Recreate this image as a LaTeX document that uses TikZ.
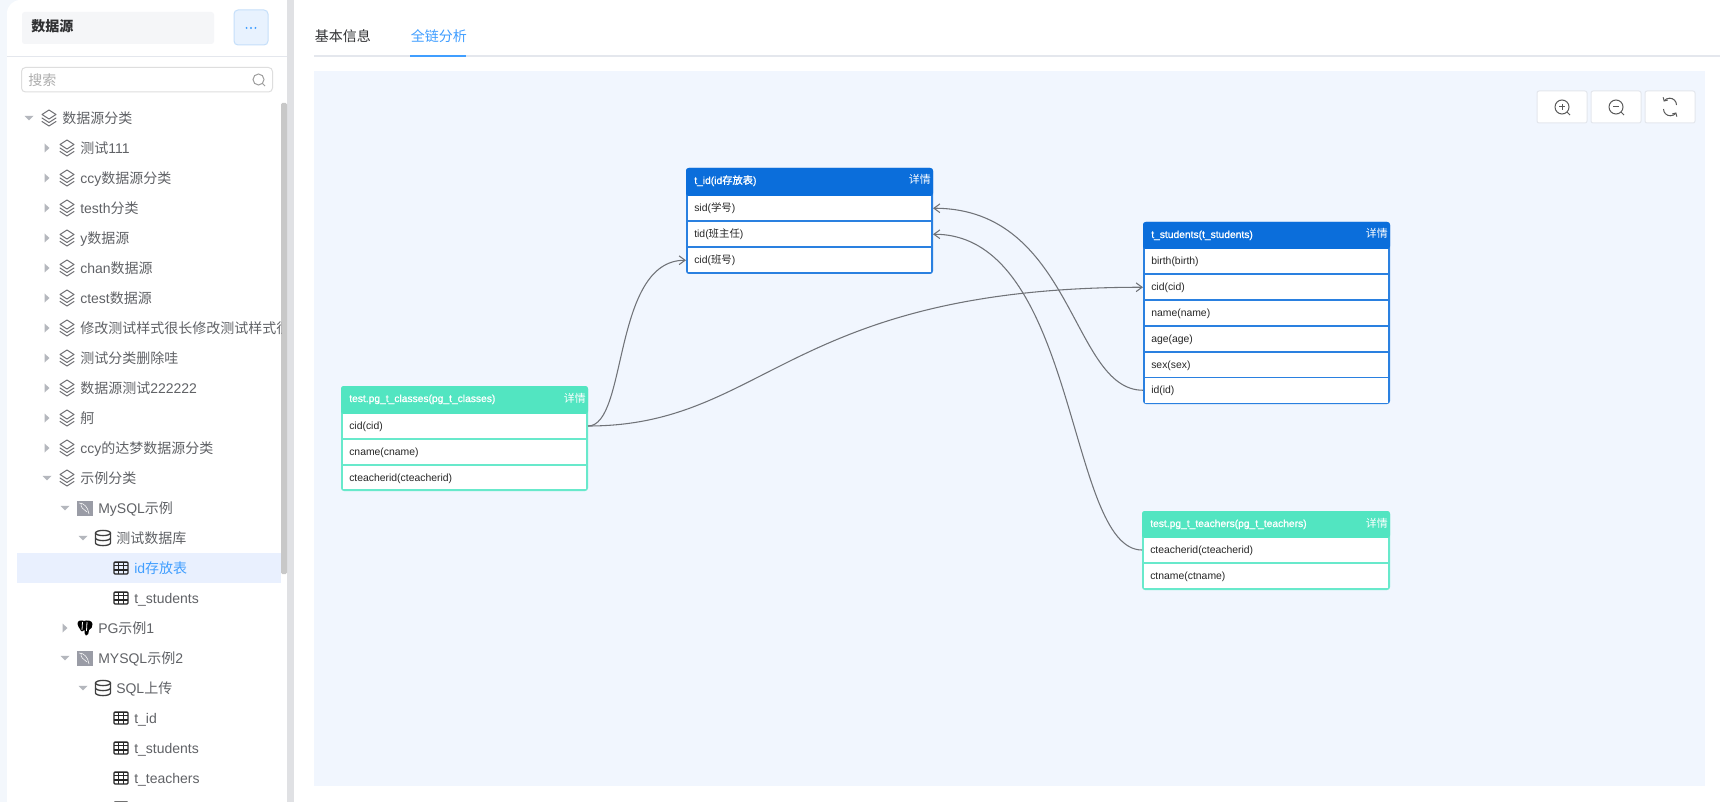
\documentclass[tikz,border=0pt]{standalone}
\usepackage{fontspec}
\setmainfont{Liberation Sans}
\newfontfamily\cjk{Noto Sans CJK SC}
\newfontfamily\headf[FakeBold=1]{Liberation Sans}
\newfontfamily\headcjk[FakeBold=1]{Noto Sans CJK SC}
\usetikzlibrary{arrows.meta}
\newcommand{\C}[1]{{\cjk #1}}
\newcommand{\HC}[1]{{\headcjk #1}}
\newcommand{\pxu}{0.75pt}
\definecolor{stripc}{HTML}{F3F7FC}
\definecolor{trackc}{HTML}{E0E1E4}
\definecolor{thumbc}{HTML}{C8C8C8}
\definecolor{treetext}{HTML}{606266}
\definecolor{darktext}{HTML}{303133}
\definecolor{linec}{HTML}{E4E7ED}
\definecolor{tabblue}{HTML}{409EFF}
\definecolor{canvasc}{HTML}{F1F6FE}
\definecolor{bluehead}{HTML}{0B6EDB}
\definecolor{blueedge}{HTML}{2A80E0}
\definecolor{greenhead}{HTML}{52E5C1}
\definecolor{greenedge}{HTML}{68E9CB}
\definecolor{connc}{HTML}{707378}
\definecolor{triac}{HTML}{B4B7BD}
\definecolor{layerc}{HTML}{707074}
\definecolor{mysqlc}{HTML}{9A9CA6}
\definecolor{headboxc}{HTML}{F5F6F8}
\definecolor{btnfill}{HTML}{E8F2FE}
\definecolor{btnedge}{HTML}{C5DFFA}
\definecolor{hlrow}{HTML}{E9F0FE}
\tikzset{
  x=\pxu,y=-\pxu,
  treefont/.style={font=\fontsize{10.5}{12}\selectfont},
  treelabel/.style={treefont,text=treetext,anchor=base west,inner sep=0pt},
  celltext/.style={font=\fontsize{7.8}{9}\selectfont,text=black!85,anchor=base west,inner sep=0pt},
  headtext/.style={font=\fontsize{7.7}{9}\selectfont\headf,text=white,anchor=base west,inner sep=0pt},
  detailtext/.style={font=\fontsize{8.2}{9}\selectfont,text=white,anchor=base east,inner sep=0pt},
  rowbox/.style={fill=white,draw=none,inner sep=0pt,outer sep=0pt},
  conn/.style={draw=connc,line width=0.8pt,-{Straight Barb[length=4.5pt,width=6.5pt]}},
  toolbtn/.style={draw=linec,fill=white,rounded corners=1.5pt,line width=0.75pt,inner sep=0pt,minimum width=50*\pxu,minimum height=32*\pxu},
  icon/.style={draw=#1,line width=0.75pt,fill=none,line join=round,line cap=round},
}
\newcommand{\layersicon}[2]{\begin{scope}[shift={(#1,#2)},icon=layerc]
  \draw (-7,-3.5)--(0,-8)--(7,-3.5)--(0,1)--cycle;
  \draw (-7,0)--(0,4.5)--(7,0);
  \draw (-7,3.5)--(0,8)--(7,3.5);
\end{scope}}
\newcommand{\dbicon}[2]{\begin{scope}[shift={(#1,#2)}]
  \draw[line width=1pt,draw=black!75] (0,-5) ellipse [x radius=7.5,y radius=2.6];
  \draw[line width=1pt,draw=black!75] (-7.5,-5)--(-7.5,5) arc[start angle=180,end angle=360,x radius=7.5,y radius=-2.6]--(7.5,-5);
  \draw[line width=1pt,draw=black!75] (-7.5,0) arc[start angle=180,end angle=360,x radius=7.5,y radius=-2.6];
\end{scope}}
\newcommand{\tableicon}[2]{\begin{scope}[shift={(#1,#2)},draw=black!85,line width=0.9pt]
  \draw[rounded corners=0.8pt] (-7,-6) rectangle (7,6);
  \draw (-7,-2.2)--(7,-2.2) (-7,2)--(7,2) (-2.4,-6)--(-2.4,6) (2.4,-6)--(2.4,6);
  \draw[line width=1.3pt] (-7,-5.6)--(7,-5.6);
\end{scope}}
\newcommand{\mysqlicon}[2]{\begin{scope}[shift={(#1,#2)}]
  \fill[mysqlc] (-8,-7.5) rectangle (8,8);
  \draw[white,line width=0.4pt] (-6,-5) .. controls (-1,-5) and (3,-1) .. (4,6) (-4,-5) .. controls (-5,0) and (-1,1) .. (2,4);
\end{scope}}
\newcommand{\pgicon}[2]{\begin{scope}[shift={(#1,#2)}]
  \fill[black] (-7.5,-4) .. controls (-8,-8) and (-3,-8) .. (-1,-7) .. controls (2,-8) and (7,-8) .. (7.5,-4)
     .. controls (8,-1) and (6,1) .. (4,2) .. controls (4,5) and (3,8) .. (1,7.5) .. controls (-1,7) and (0,4) .. (-0.5,2)
     .. controls (-2,4) and (-4,4) .. (-5,1) .. controls (-6,0) and (-7,-2) .. (-7.5,-4) -- cycle;
  \draw[white,line width=0.6pt] (-2.5,-6) -- (-3,2) (2,-6) -- (1.5,3);
\end{scope}}
\newcommand{\triR}[2]{\fill[triac] (#1-2.5,#2-4.5)--(#1+2.5,#2)--(#1-2.5,#2+4.5)--cycle;}
\newcommand{\triD}[2]{\fill[triac] (#1-4.5,#2-2.2)--(#1+4.5,#2-2.2)--(#1,#2+2.4)--cycle;}
\newcommand{\dbframe}[9]{%
  \fill[#9,rounded corners=2.2pt] (#2,#3) rectangle (#4,#5);
  \fill[#8,rounded corners=2pt] (#2,#3) -- (#4,#3) -- (#4,#6) -- (#2,#6) -- cycle;
  \node[headtext] (#1title) at (#2+8,#3+16) {#7};
  \node[detailtext] (#1detail) at (#4-2,#3+16) {\C{详情}};
}
\newcommand{\dbrow}[6]{%
  \node[rowbox,minimum width={(#3-#2-3.6)*\pxu},minimum height={(#5-#4)*\pxu},outer xsep=1.8*\pxu] (#1) at ({(#2+#3)/2},{(#4+#5)/2}) {};
  \node[celltext] (#1text) at (#2+8,{(#4+#5)/2+3.7}) {#6};
}
\begin{document}
\begin{tikzpicture}
\clip (0,0) rectangle (1720,802);
\fill[white] (0,0) rectangle (1720,802);
% sidebar
\fill[stripc] (0,0) rectangle (7,802);
\fill[stripc] (7,0) rectangle (20,12);
\fill[white,rounded corners=10pt] (7,0) -- (287,0) -- (287,802) -- (7,802) -- cycle;
\fill[white] (20,0) rectangle (287,20);
\fill[white] (7,20) rectangle (287,802);
\fill[trackc] (287,0) rectangle (294,802);
\fill[thumbc,rounded corners=1pt] (281,103) rectangle (287,574);
% header
\fill[headboxc,rounded corners=2pt] (22,12) rectangle (214,44);
\node[treefont,text=darktext,anchor=base west,inner sep=0pt] (hd) at (31,32) {\cjk\bfseries 数据源};
\draw[draw=btnedge,fill=btnfill,rounded corners=3pt,line width=0.75pt] (234,10) rectangle (268,45);
\fill[tabblue] (246.6,28) circle (1.1) (251,28) circle (1.1) (255.4,28) circle (1.1);
\draw[linec,line width=0.75pt] (7,56.5)--(287,56.5);
% search
\draw[draw=black!13,rounded corners=3pt,line width=0.75pt] (21.5,67.5) rectangle (272.5,92);
\node[treefont,text=black!32,anchor=base west,inner sep=0pt] (srch) at (28,86) {\C{搜索}};
\draw[black!38,line width=0.75pt] (258.5,79.5) circle (5.5) (262.5,83.5)--(265,86);
% highlighted row
\fill[hlrow] (17,553) rectangle (281,583);
% tree
\begin{scope}
\clip (0,95) rectangle (281,802);
\triD{29}{118}\layersicon{49}{118}\node[treelabel] (a0) at (62,124) {\C{数据源分类}};
\foreach \yy/\nn/\tt in {148/a1/{\C{测试}111},178/a2/{ccy\C{数据源分类}},208/a3/{testh\C{分类}},238/a4/{y\C{数据源}},268/a5/{chan\C{数据源}},298/a6/{ctest\C{数据源}},328/a7/{\C{修改测试样式很长修改测试样式很}},358/a8/{\C{测试分类删除哇}},388/a9/{\C{数据源测试}222222},418/a10/{\C{舸}},448/a11/{ccy\C{的达梦数据源分类}}}{
  \triR{47}{\yy}\layersicon{67}{\yy}\node[treelabel] (\nn) at (80,{\yy+(\yy<250?6:5)}) {\tt};
}
\triD{47}{478}\layersicon{67}{478}\node[treelabel] (a12) at (80,483) {\C{示例分类}};
\triD{65}{508}\mysqlicon{85}{508}\node[treelabel] (b1) at (98,513) {MySQL\C{示例}};
\triD{83}{538}\dbicon{103}{538}\node[treelabel] (c1) at (116,543) {\C{测试数据库}};
\tableicon{121}{568}\node[treelabel,text=tabblue] (d1) at (134,573) {id\C{存放表}};
\tableicon{121}{598}\node[treelabel] (d2) at (134,603) {t\_students};
\triR{65}{628}\pgicon{85}{628}\node[treelabel] (b2) at (98,633) {PG\C{示例}1};
\triD{65}{658}\mysqlicon{85}{658}\node[treelabel] (b3) at (98,663) {MYSQL\C{示例}2};
\triD{83}{688}\dbicon{103}{688}\node[treelabel] (c2) at (116,693) {SQL\C{上传}};
\tableicon{121}{718}\node[treelabel] (d3) at (134,723) {t\_id};
\tableicon{121}{748}\node[treelabel] (d4) at (134,753) {t\_students};
\tableicon{121}{778}\node[treelabel] (d5) at (134,783) {t\_teachers};
\tableicon{121}{808}
\end{scope}
% tabs
\node[treefont,text=darktext,anchor=base west,inner sep=0pt] (tab1) at (314.5,42) {\C{基本信息}};
\node[treefont,text=tabblue,anchor=base west,inner sep=0pt] (tab2) at (410.5,42) {\C{全链分析}};
\fill[linec] (314,55) rectangle (1720,57);
\fill[tabblue] (410,55) rectangle (466,57);
% canvas
\fill[canvasc] (314,71) rectangle (1705,786);
% tool buttons
\node[toolbtn] (zin) at (1562,107) {};
\node[toolbtn] (zout) at (1616,107) {};
\node[toolbtn] (zre) at (1670,107) {};
\begin{scope}[black!65,line width=0.75pt]
\draw (zin)++(0,0) circle (7);
\draw (zin)++(5,5)--++(3,3);
\draw (zin)++(-3,0)--++(6,0);
\draw (zin)++(0,-3)--++(0,6);
\draw (zout)++(0,0) circle (7);
\draw (zout)++(5,5)--++(3,3);
\draw (zout)++(-3,0)--++(6,0);
\draw[-{Straight Barb[length=2pt,width=4pt]}] (1676.5,105) arc[start angle=0,end angle=-150,radius=6.8];
\draw[-{Straight Barb[length=2pt,width=4pt]}] (1663.5,109) arc[start angle=180,end angle=30,radius=6.8];
\end{scope}
% t_id
\dbframe{tid}{686}{168}{933}{274}{196}{t\_id(id\HC{存放表})}{bluehead}{blueedge}
\dbrow{tidsid}{686}{933}{196}{220.5}{sid(\C{学号})}
\dbrow{tidtid}{686}{933}{222}{246.5}{tid(\C{班主任})}
\dbrow{tidcid}{686}{933}{248}{272.5}{cid(\C{班号})}
% t_students
\dbframe{st}{1143}{222}{1390}{404}{249}{t\_students(t\_students)}{bluehead}{blueedge}
\dbrow{stbirth}{1143}{1390}{249}{273.5}{birth(birth)}
\dbrow{stcid}{1143}{1390}{275}{299.5}{cid(cid)}
\dbrow{stname}{1143}{1390}{301}{325}{name(name)}
\dbrow{stage}{1143}{1390}{326.5}{351}{age(age)}
\dbrow{stsex}{1143}{1390}{352.5}{376.5}{sex(sex)}
\dbrow{stid}{1143}{1390}{378}{402.5}{id(id)}
% classes
\dbframe{cl}{341}{386}{588}{491}{414}{test.pg\_t\_classes(pg\_t\_classes)}{greenhead}{greenedge}
\dbrow{clcid}{341}{588}{414}{438}{cid(cid)}
\dbrow{clname}{341}{588}{440}{464}{cname(cname)}
\dbrow{clteach}{341}{588}{466}{489}{cteacherid(cteacherid)}
% teachers
\dbframe{te}{1142}{511}{1390}{590}{538}{test.pg\_t\_teachers(pg\_t\_teachers)}{greenhead}{greenedge}
\dbrow{teid}{1142}{1390}{538}{562}{cteacherid(cteacherid)}
\dbrow{tename}{1142}{1390}{564}{588}{ctname(ctname)}
% connectors
\draw[conn] (clcid.east) .. controls +(40,0) and +(-74,0) .. (tidcid.west);
\draw[conn] (clcid.east) .. controls +(178,0) and +(-355,0) .. (stcid.west);
\draw[conn] (stid.west) .. controls +(-72,0) and +(141,0) .. (tidsid.east);
\draw[conn] (teid.west) .. controls +(-75,0) and +(145,0) .. (tidtid.east);
\end{tikzpicture}
\end{document}
